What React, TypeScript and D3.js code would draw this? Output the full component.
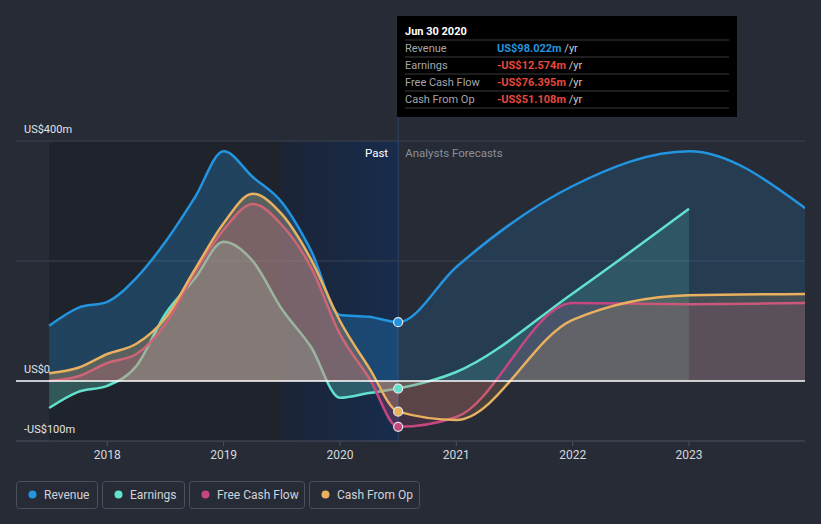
import React from "react";
import * as d3 from "d3";

// ---------- data ----------
const pastDates = [2017.5, 2017.75, 2018, 2018.25, 2018.5, 2018.75, 2019, 2019.25, 2019.5, 2019.75, 2020, 2020.25, 2020.5];
const revenuePast = [92, 122, 132, 172, 232, 305, 383, 340, 298, 218, 110, 107, 98.022];
const earningsPast = [-45, -18, -8, 25, 112, 170, 232, 200, 120, 57, -28, -20, -12.574];
const fcfPast = [0, 8, 30, 45, 95, 180, 252, 295, 260, 190, 78, 5, -76.395];
const cfoPast = [13, 22, 45, 62, 105, 185, 263, 312, 278, 203, 100, 22, -51.108];

const forecastDates = [2021, 2022, 2023, 2024];
const revenueForecast = [190, 325, 383, 288];
const earningsForecast = [15, 146, 287];
const fcfForecast = [-60, 130, 128, 130];
const cfoForecast = [-65, 102, 143, 145];

const xTickValues = [2018, 2019, 2020, 2021, 2022, 2023];
const xTickLabels = ["2018", "2019", "2020", "2021", "2022", "2023"];
const yLabelValues = [400, 0, -100];
const yLabelTexts = ["US$400m", "US$0", "-US$100m"];
const gridValues = [400, 200];

const seriesNames = ["Revenue", "Earnings", "Free Cash Flow", "Cash From Op"];
const seriesColors = ["#2394df", "#62e1cd", "#c4477f", "#e9b060"];

const tooltipDate = "Jun 30 2020";
const tooltipValues = ["US$98.022m", "-US$12.574m", "-US$76.395m", "-US$51.108m"];
const pastLabel = "Past";
const forecastLabel = "Analysts Forecasts";
const currentDate = 2020.5;
const pastShadeStart = 2019.5;

// ---------- layout ----------
const W = 821;
const H = 524;
const x = d3.scaleLinear().domain([2018, 2023]).range([107.3, 689]);
const y = d3.scaleLinear().domain([-100, 400]).range([441, 141]);
const plotLeft = 16;
const plotRight = 805;
const FONT = "Roboto, 'Open Sans', sans-serif";

type Pt = { d: number; v: number };
function build(past: number[], fdates: number[], fvals: number[]): Pt[] {
  const a = pastDates.map((d, i) => ({ d, v: past[i] }));
  const b = fvals.map((v, i) => ({ d: fdates[i], v }));
  return a.concat(b);
}

const series = [
  build(revenuePast, forecastDates, revenueForecast),
  build(earningsPast, forecastDates, earningsForecast),
  build(fcfPast, forecastDates, fcfForecast),
  build(cfoPast, forecastDates, cfoForecast),
];

const line = d3
  .line<Pt>()
  .x((p) => x(p.d))
  .y((p) => y(p.v))
  .curve(d3.curveMonotoneX);
const area = d3
  .area<Pt>()
  .x((p) => x(p.d))
  .y0(y(0))
  .y1((p) => y(p.v))
  .curve(d3.curveMonotoneX);

const legendWidths = [81, 82, 115, 110];

export default function App() {
  const xNow = x(currentDate);
  const xShade = x(pastShadeStart);
  const xStart = x(pastDates[0]);
  let lx = 16;
  const legendPos = legendWidths.map((w) => {
    const p = lx;
    lx += w + 5;
    return p;
  });
  return (
    <svg width={W} height={H} style={{ position: "absolute", left: 0, top: 0, background: "#262b36", fontFamily: FONT }}>
      <defs>
        <linearGradient id="pastBlue" x1="0" x2="1" y1="0" y2="0">
          <stop offset="0" stopColor="#1b2436" />
          <stop offset="1" stopColor="#172c4d" />
        </linearGradient>
        {seriesColors.map((c, i) => (
          <linearGradient key={i} id={"ag" + i} gradientUnits="userSpaceOnUse" x1={plotLeft} x2={plotRight} y1={0} y2={0}>
            <stop offset={0} stopColor={c} stopOpacity={0.28} />
            <stop offset={(xNow - plotLeft) / (plotRight - plotLeft)} stopColor={c} stopOpacity={0.28} />
            <stop offset={(xNow - plotLeft) / (plotRight - plotLeft)} stopColor={c} stopOpacity={0.16} />
            <stop offset={1} stopColor={c} stopOpacity={0.16} />
          </linearGradient>
        ))}
        <clipPath id="plotClip">
          <rect x={plotLeft} y={0} width={plotRight - plotLeft} height={441} />
        </clipPath>
      </defs>
      <rect x={0} y={0} width={W} height={H} fill="#262b36" />
      {/* past shading */}
      <rect x={xStart} y={y(400)} width={xShade - xStart} height={y(-100) - y(400)} fill="#1f232c" />
      <rect x={xShade} y={y(400)} width={xNow - xShade} height={y(-100) - y(400)} fill="url(#pastBlue)" />
      {/* grid */}
      {gridValues.map((v) => (
        <line key={v} x1={plotLeft} x2={plotRight} y1={y(v)} y2={y(v)} stroke="#3c4250" strokeWidth={1} />
      ))}
      <line x1={plotLeft} x2={plotRight} y1={y(-100)} y2={y(-100)} stroke="#4a505c" strokeWidth={1} />
      {xTickValues.map((t, i) => (
        <g key={t}>
          <line x1={x(t)} x2={x(t)} y1={y(-100)} y2={y(-100) + 5} stroke="#4a505c" />
          <text x={x(t)} y={459} textAnchor="middle" fontSize={12} fill="#d5d8dd">
            {xTickLabels[i]}
          </text>
        </g>
      ))}
      {/* divider */}
      <line x1={xNow} x2={xNow} y1={16} y2={y(-100)} stroke="#2b3d5c" strokeWidth={1.5} />
      {/* series */}
      <g clipPath="url(#plotClip)">
        {series.map((s, i) => (
          <g key={i}>
            <path d={area(s) || ""} fill={"url(#ag" + i + ")"} />
            <path d={line(s) || ""} fill="none" stroke={seriesColors[i]} strokeWidth={2.5} />
          </g>
        ))}
      </g>
      <line x1={plotLeft} x2={plotRight} y1={y(0)} y2={y(0)} stroke="#ffffff" strokeWidth={1.5} />
      {series.map((s, i) => {
        const p = s.find((q) => q.d === currentDate)!;
        return <circle key={i} cx={x(p.d)} cy={y(p.v)} r={4.5} fill={seriesColors[i]} stroke="#e6e6e6" strokeWidth={1.2} />;
      })}
      {/* y labels */}
      {yLabelValues.map((v, i) => (
        <text key={v} x={24} y={y(v) - 8} fontSize={11} fill="#e2e4e8">
          {yLabelTexts[i]}
        </text>
      ))}
      <text x={xNow - 10} y={157} textAnchor="end" fontSize={11.5} fill="#ffffff">
        {pastLabel}
      </text>
      <text x={xNow + 7} y={157} fontSize={11.5} fill="#8a8f99">
        {forecastLabel}
      </text>
      {/* tooltip */}
      <g>
        <rect x={397} y={16} width={340} height={101} fill="#000000" />
        <text x={405} y={35} fontSize={11} fontWeight="bold" fill="#ffffff">
          {tooltipDate}
        </text>
        {[0, 1, 2, 3, 4].map((k) => (
          <line key={k} x1={405} x2={729} y1={40 + k * 17} y2={40 + k * 17} stroke="#3a3a3a" strokeWidth={1} />
        ))}
        {seriesNames.map((n, i) => (
          <g key={n}>
            <text x={405} y={52 + i * 17} fontSize={11} fill="#a3a6ac">
              {n}
            </text>
            <text x={497} y={52 + i * 17} fontSize={11} fill="#a3a6ac">
              <tspan fontWeight="bold" fill={i === 0 ? "#2394df" : "#e5483f"}>
                {tooltipValues[i]}
              </tspan>
              <tspan fill="#c8cacf">{" /yr"}</tspan>
            </text>
          </g>
        ))}
      </g>
      {/* legend */}
      {seriesNames.map((n, i) => (
        <g key={n}>
          <rect x={legendPos[i] + 0.5} y={481.5} width={legendWidths[i]} height={27} rx={3} fill="none" stroke="#4a505c" />
          <circle cx={legendPos[i] + 16.5} cy={494.5} r={4} fill={seriesColors[i]} />
          <text x={legendPos[i] + 28} y={498.5} fontSize={12} fill="#d0d4da">
            {n}
          </text>
        </g>
      ))}
    </svg>
  );
}
